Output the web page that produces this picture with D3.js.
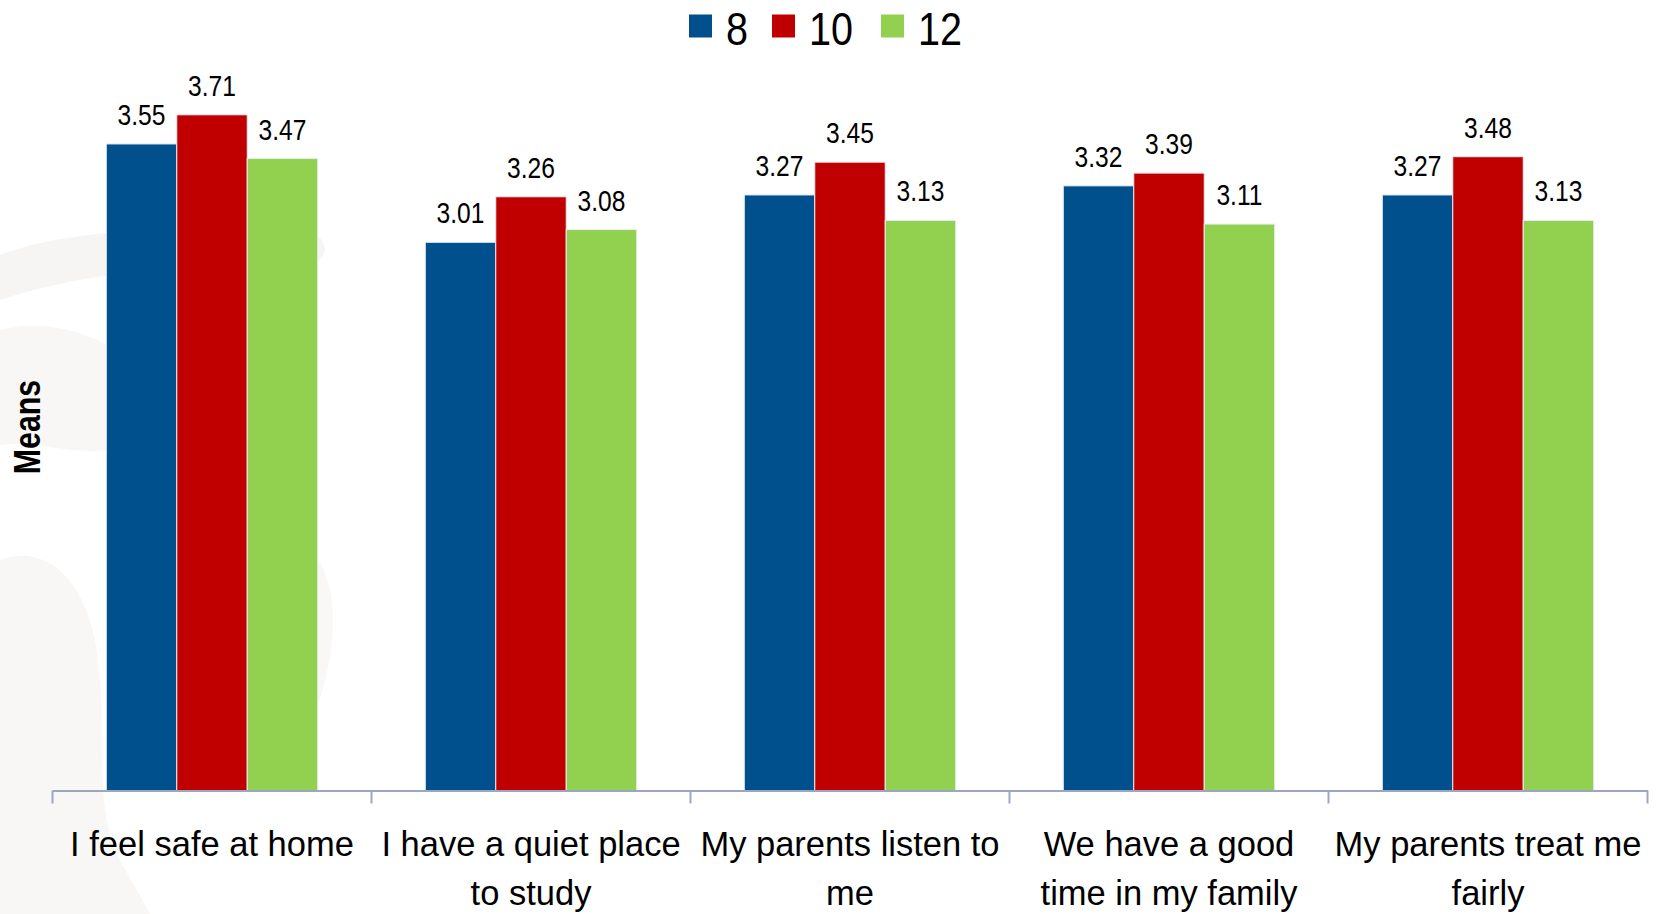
<!DOCTYPE html>
<html>
<head>
<meta charset="utf-8">
<script src="https://cdn.jsdelivr.net/npm/d3@7"></script>
<style>
  html, body { margin: 0; padding: 0; background: #fff; }
  svg { display: block; }
</style>
</head>
<body>
<svg id="chart" width="1658" height="914"></svg>
<script>
const categories = [
  "I feel safe at home",
  "I have a quiet place to study",
  "My parents listen to me",
  "We have a good time in my family",
  "My parents treat me fairly"
];
const seriesNames = ["8", "10", "12"];
const grade8  = [3.55, 3.01, 3.27, 3.32, 3.27];
const grade10 = [3.71, 3.26, 3.45, 3.39, 3.48];
const grade12 = [3.47, 3.08, 3.13, 3.11, 3.13];
const seriesColors = ["#00508E", "#C00000", "#92D050"];
const yDomain = [0, 4];
const yTitle = "Means";

const seriesValues = [grade8, grade10, grade12];
const rows = categories.map((c, i) => ({
  cat: c,
  vals: seriesNames.map((s, j) => ({ key: s, value: seriesValues[j][i] }))
}));

const svg = d3.select("#chart");
const margin = { left: 52.5, right: 10.5, top: 62, bottom: 123.5 };
const W = 1658, H = 914;
const innerW = W - margin.left - margin.right;
const innerH = H - margin.top - margin.bottom;
const NARROW = 0.82;
const baseFont = "'Liberation Sans', Arial, sans-serif";

// faint watermark in the background
const wm = svg.append("g").attr("fill", "#f6f5f4").attr("stroke", "none");
wm.append("path").attr("d", "M0,255 C70,228 200,222 320,238 C330,250 325,262 300,268 C200,262 90,270 0,300 Z");
wm.append("path").attr("d", "M0,330 C40,318 110,330 150,380 C165,410 150,440 110,450 C70,455 30,440 0,445 Z").attr("opacity", 0.8);
wm.append("path").attr("d", "M0,560 C40,545 80,570 95,640 C110,720 90,800 120,860 L150,914 L0,914 Z").attr("opacity", 0.8);
wm.append("path").attr("d", "M250,540 C300,520 340,560 332,640 C325,710 300,750 268,745 C250,690 245,600 250,540 Z").attr("opacity", 0.7);

const g = svg.append("g").attr("transform", `translate(${margin.left},${margin.top})`);

const x0 = d3.scaleBand().domain(categories).range([0, innerW]).paddingInner(0).paddingOuter(0);
const x1 = d3.scaleBand().domain(seriesNames).range([53.8, 265.2]).padding(0);
const y = d3.scaleLinear().domain(yDomain).range([innerH, 0]);
const color = d3.scaleOrdinal().domain(seriesNames).range(seriesColors);

// bars
const groups = g.selectAll("g.grp").data(rows).join("g")
  .attr("class", "grp")
  .attr("transform", d => `translate(${x0(d.cat)},0)`);

groups.selectAll("rect").data(d => d.vals).join("rect")
  .attr("x", d => x1(d.key))
  .attr("y", d => y(d.value))
  .attr("width", x1.bandwidth())
  .attr("height", d => y(0) - y(d.value))
  .attr("fill", d => color(d.key))
  .attr("stroke", "#e8ecf2")
  .attr("stroke-width", 1);

groups.selectAll("text.val").data(d => d.vals).join("text")
  .attr("class", "val")
  .attr("transform", d => `translate(${x1(d.key) + x1.bandwidth() / 2},${y(d.value) - 19}) scale(${NARROW},1)`)
  .attr("text-anchor", "middle")
  .attr("font-family", baseFont)
  .attr("font-size", 30)
  .attr("fill", "#000")
  .text(d => d.value.toFixed(2));

// x axis
const xAxis = d3.axisBottom(x0).tickSize(0).tickFormat("");
const ax = g.append("g").attr("transform", `translate(0,${innerH})`).call(xAxis);
ax.select(".domain").attr("stroke", "#9ba7c2").attr("stroke-width", 2);
const boundaries = categories.map(c => x0(c)).concat([innerW]);
ax.selectAll("line.bt").data(boundaries).join("line")
  .attr("class", "bt")
  .attr("x1", d => d).attr("x2", d => d)
  .attr("y1", 0).attr("y2", 13)
  .attr("stroke", "#9ba7c2").attr("stroke-width", 2);

// category labels with wrapping
const labels = g.append("g").attr("transform", `translate(0,${innerH})`);
categories.forEach(c => {
  const cx = x0(c) + x0.bandwidth() / 2;
  const t = labels.append("text")
    .attr("x", cx)
    .attr("y", 65.5)
    .attr("text-anchor", "middle")
    .attr("font-family", baseFont)
    .attr("font-size", 34.5)
    .attr("fill", "#000");
  const words = c.split(" ");
  let line = [];
  let tspan = t.append("tspan").attr("x", cx).attr("dy", 0);
  words.forEach(w => {
    line.push(w);
    tspan.text(line.join(" "));
    if (tspan.node().getComputedTextLength() > x0.bandwidth() - 6 && line.length > 1) {
      line.pop();
      tspan.text(line.join(" "));
      line = [w];
      tspan = t.append("tspan").attr("x", cx).attr("dy", 49).text(w);
    }
  });
});

// y title
svg.append("text")
  .attr("transform", `translate(40,427) rotate(-90) scale(${NARROW},1)`)
  .attr("text-anchor", "middle")
  .attr("font-family", baseFont)
  .attr("font-weight", "bold")
  .attr("font-size", 37)
  .attr("fill", "#000")
  .text(yTitle);

// legend
const legend = svg.append("g");
const legendStarts = [689, 772, 881];
seriesNames.forEach((s, i) => {
  const lx = legendStarts[i];
  legend.append("rect")
    .attr("x", lx).attr("y", 14.5)
    .attr("width", 23).attr("height", 23)
    .attr("fill", color(s));
  legend.append("text")
    .attr("transform", `translate(${lx + 37},44.5) scale(0.86,1)`)
    .attr("font-family", baseFont)
    .attr("font-size", 46)
    .attr("fill", "#000")
    .text(s);
});
</script>
</body>
</html>
